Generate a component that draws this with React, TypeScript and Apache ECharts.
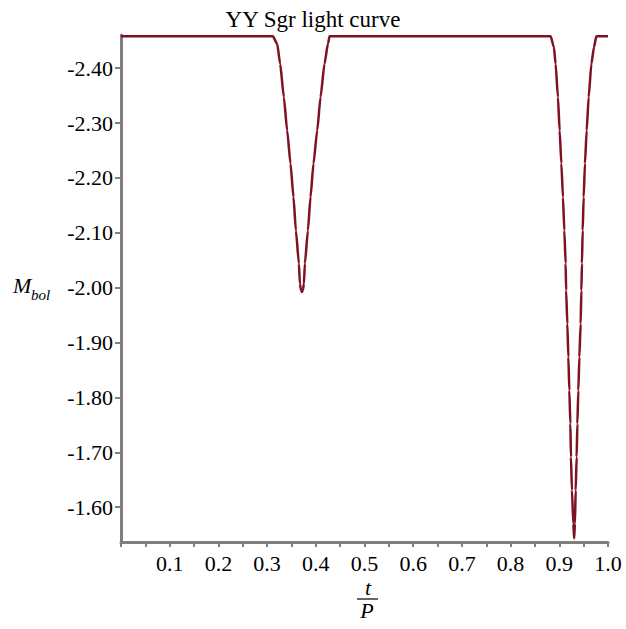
import React, { useEffect, useRef } from "react";
import * as echarts from "echarts";

// Phase t/P
const phase = [
  0, 0.3118, 0.3207, 0.3268, 0.3344, 0.3412, 0.348, 0.3542, 0.3591, 0.3653, 0.3673, 0.3693, 0.3715,
  0.3737, 0.3756, 0.3776, 0.3838, 0.3891, 0.3953, 0.4029, 0.4097, 0.4179, 0.4249, 0.4282,
  0.8822, 0.8889, 0.8924, 0.8972, 0.9007, 0.9042, 0.9075, 0.9103, 0.913, 0.914, 0.9165,
  0.9186, 0.9206, 0.9227, 0.9239, 0.926, 0.9288, 0.9305, 0.9321, 0.9336, 0.9356, 0.9371,
  0.9391, 0.9412, 0.9438, 0.9453, 0.9465, 0.948, 0.95, 0.9527, 0.9562, 0.9603, 0.9659,
  0.9712, 0.9761, 1.0,
];
// Bolometric magnitude
const mbol = [
  -2.458, -2.458, -2.4444, -2.408, -2.3472, -2.2865, -2.2264, -2.165, -2.1044, -2.0443, -2.0073, -1.9965, -1.992,
  -1.9965, -2.0073, -2.0443, -2.1044, -2.165, -2.2264, -2.2865, -2.3472, -2.408, -2.4444, -2.458,
  -2.458, -2.4383, -2.408, -2.3472, -2.2865, -2.2264, -2.165, -2.1044, -2.0443, -1.9949, -1.9344,
  -1.8736, -1.8129, -1.7523, -1.6914, -1.6308, -1.5701, -1.543, -1.5701, -1.6308, -1.6914, -1.7523,
  -1.8129, -1.8736, -1.9344, -1.9949, -2.0443, -2.1044, -2.165, -2.2264, -2.2865, -2.3472, -2.408,
  -2.4383, -2.458, -2.458,
];
const yTicks = [-2.4, -2.3, -2.2, -2.1, -2.0, -1.9, -1.8, -1.7, -1.6];
const xTicks = [0.1, 0.2, 0.3, 0.4, 0.5, 0.6, 0.7, 0.8, 0.9, 1.0];

const SERIF = "'Liberation Serif', 'Times New Roman', serif";
const AXIS = "#808080";

export default function App() {
  const ref = useRef<HTMLDivElement>(null);
  useEffect(() => {
    if (!ref.current) return;
    const chart = echarts.init(ref.current, null, { renderer: "svg" });
    const data = phase.map((t, i) => [t, mbol[i]]);
    chart.setOption({
      animation: false,
      backgroundColor: "#ffffff",
      title: {
        text: "YY Sgr light curve",
        left: "center",
        top: 3,
        textStyle: { fontFamily: SERIF, fontWeight: "normal", fontSize: 23, color: "#000" },
      },
      grid: { left: 121, right: 18, top: 35, bottom: 87 },
      xAxis: {
        type: "value",
        min: 0,
        max: 1,
        interval: 0.05,
        axisLine: { show: true, lineStyle: { color: AXIS, width: 3 } },
        axisTick: { show: true, length: 5, lineStyle: { color: AXIS, width: 2 } },
        axisLabel: {
          customValues: xTicks,
          formatter: (v: number) => v.toFixed(1),
          margin: 10,
          fontFamily: SERIF,
          fontSize: 22,
          color: "#000",
        },
        splitLine: { show: false },
      },
      yAxis: {
        type: "value",
        inverse: true,
        min: -2.4605,
        max: -1.5366,
        axisLine: { show: true, lineStyle: { color: AXIS, width: 3 } },
        axisTick: { show: true, length: 6, customValues: yTicks, lineStyle: { color: AXIS, width: 2 } },
        axisLabel: {
          customValues: yTicks,
          formatter: (v: number) => v.toFixed(2),
          margin: 8,
          fontFamily: SERIF,
          fontSize: 22,
          color: "#000",
        },
        splitLine: { show: false },
      },
      graphic: [
        {
          type: "text",
          x: 13,
          y: 285.6,
          style: { text: "M", fontFamily: SERIF, fontStyle: "italic", fontSize: 22, fill: "#000", verticalAlign: "middle", align: "left" },
        },
        {
          type: "text",
          x: 31,
          y: 295,
          style: { text: "bol", fontFamily: SERIF, fontStyle: "italic", fontSize: 15, fill: "#000", verticalAlign: "middle", align: "left" },
        },
        {
          type: "text",
          x: 368,
          y: 587,
          style: { text: "t", fontFamily: SERIF, fontStyle: "italic", fontSize: 22, fill: "#000", verticalAlign: "middle", align: "center" },
        },
        {
          type: "line",
          shape: { x1: 357, y1: 599, x2: 378, y2: 599 },
          style: { stroke: "#666", lineWidth: 2 },
        },
        {
          type: "text",
          x: 367,
          y: 610,
          style: { text: "P", fontFamily: SERIF, fontStyle: "italic", fontSize: 22, fill: "#000", verticalAlign: "middle", align: "center" },
        },
      ],
      series: [
        {
          type: "line",
          data,
          showSymbol: false,
          smooth: 0.2,
          smoothMonotone: "x",
          lineStyle: { color: "#7E1224", width: 2.5 },
          clip: false,
        },
      ],
    });
    return () => chart.dispose();
  }, []);
  return <div ref={ref} style={{ position: "fixed", left: 0, top: 0, width: 626, height: 629 }} />;
}
